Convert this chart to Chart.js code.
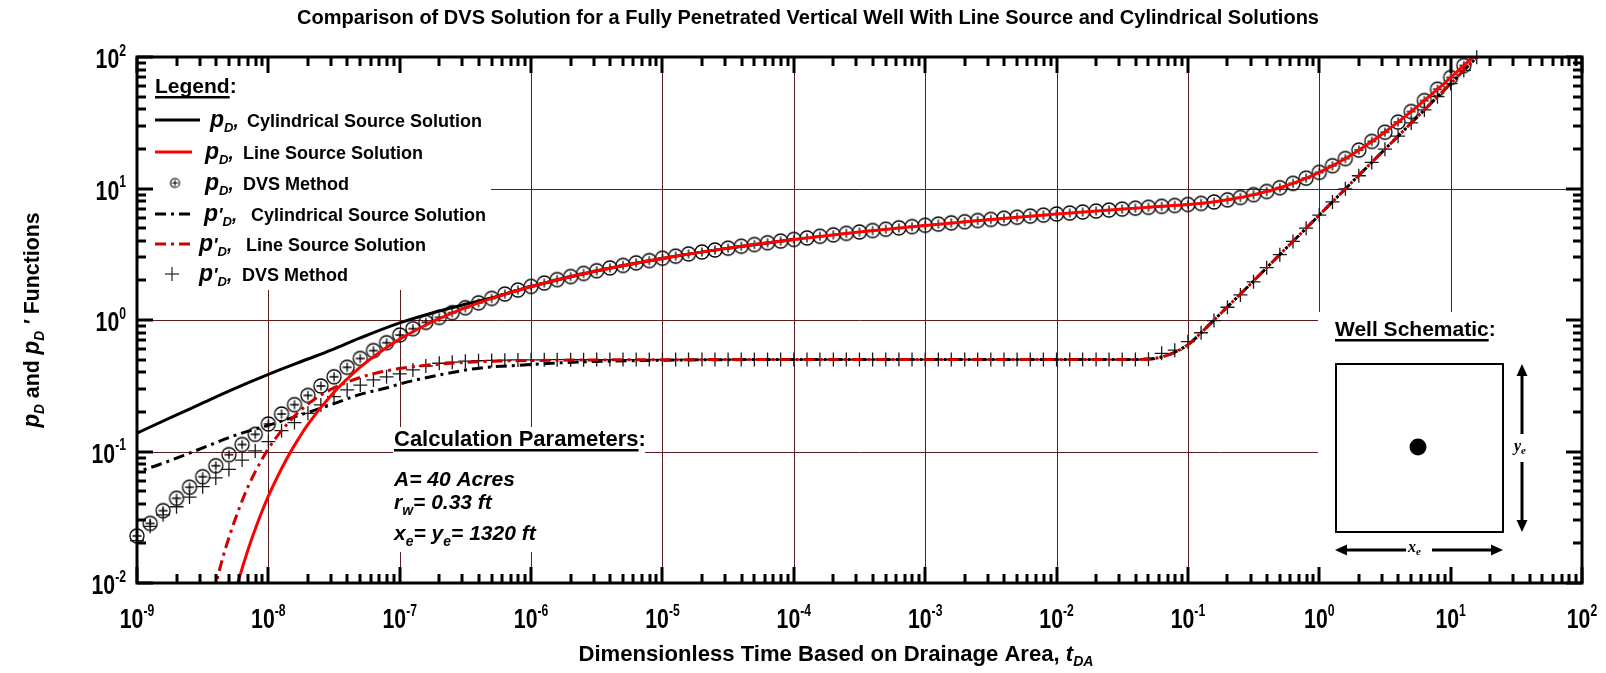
<!DOCTYPE html>
<html>
<head>
<meta charset="utf-8">
<script src="https://cdn.jsdelivr.net/npm/chart.js@4.4.1/dist/chart.umd.min.js"></script>
<style>
  html, body { margin: 0; padding: 0; background: #fff; }
  canvas { display: block; }
</style>
</head>
<body>
<canvas id="dvsChart" width="1606" height="673"></canvas>
<script>
// ---- values ----
var xTickExps = ['-9', '-8', '-7', '-6', '-5', '-4', '-3', '-2', '-1', '0', '1', '2'];
var yTickExps = ['-2', '-1', '0', '1', '2'];

// pD, line source solution (red solid)
var tPdLine = [5.5e-9, 6e-9, 7e-9, 8e-9, 1e-8, 1.25e-8, 1.5e-8, 2e-8, 3e-8, 5e-8, 7e-8, 1e-7, 1.5e-7, 2e-7, 3e-7, 5e-7,
  1e-6, 3e-6, 1e-5, 3e-5, 1e-4, 3e-4, 1e-3, 3e-3, 1e-2, 3e-2, 5e-2, 0.1, 0.15, 0.2, 0.3, 0.5, 0.7, 1, 1.5, 2, 3, 5, 7, 10, 16];
var pdLine = [0.008, 0.0109, 0.0179, 0.0262, 0.0457, 0.073, 0.102, 0.161, 0.267, 0.438, 0.567, 0.715, 0.893, 1.024, 1.215, 1.46,
  1.8, 2.34, 2.94, 3.49, 4.09, 4.64, 5.24, 5.79, 6.39, 6.94, 7.2, 7.56, 7.87, 8.2, 8.87, 10.13, 11.39, 13.27, 16.41, 19.56, 25.84, 38.4, 50.97, 69.8, 107.5];

// pD, cylindrical source solution (black solid)
var tPdCyl = [1e-9, 2e-9, 3e-9, 5e-9, 1e-8, 2e-8, 3e-8, 5e-8, 1e-7, 2e-7, 3e-7, 5e-7, 1e-6, 3e-6, 1e-5, 3e-5, 1e-4];
var pdCyl = [0.138, 0.19, 0.228, 0.288, 0.386, 0.505, 0.59, 0.73, 0.95, 1.17, 1.3, 1.47, 1.8, 2.34, 2.94, 3.49, 4.09];

// pD', cylindrical source solution (black dash-dot)
var tPdPrimeCyl = [1e-9, 1.5e-9, 2.7e-9, 6e-9, 1e-8, 1.6e-8, 3.2e-8, 5e-8, 8e-8, 1e-7, 2e-7, 4e-7, 1e-6, 2.3e-6, 6e-6, 1e-5,
  1e-4, 1e-3, 1e-2, 3e-2, 5e-2, 7e-2, 0.1, 0.15, 0.2, 0.3, 0.5, 1, 2, 5, 10, 16];
var pdPrimeCyl = [0.07, 0.08, 0.1, 0.136, 0.158, 0.184, 0.232, 0.272, 0.305, 0.326, 0.382, 0.43, 0.458, 0.48, 0.49, 0.495,
  0.5, 0.5, 0.5, 0.5, 0.505, 0.54, 0.65, 0.95, 1.26, 1.88, 3.14, 6.28, 12.6, 31.4, 62.8, 100.5];

// pD', line source solution (red dash-dot)
var tPdPrimeLine = [3.8e-9, 4.5e-9, 5e-9, 6e-9, 7e-9, 8e-9, 1e-8, 1.5e-8, 2e-8, 3e-8, 5e-8, 7e-8, 1e-7, 2e-7, 5e-7, 1e-6,
  1e-5, 1e-4, 1e-3, 1e-2, 3e-2, 5e-2, 7e-2, 0.1, 0.15, 0.2, 0.3, 0.5, 1, 2, 5, 10, 16];
var pdPrimeLine = [0.0082, 0.0156, 0.022, 0.037, 0.054, 0.071, 0.105, 0.176, 0.229, 0.297, 0.366, 0.4, 0.428, 0.462, 0.485, 0.492,
  0.499, 0.5, 0.5, 0.5, 0.5, 0.505, 0.54, 0.65, 0.95, 1.26, 1.88, 3.14, 6.28, 12.6, 31.4, 62.8, 100.5];

// DVS method sample times (markers)
var tDvs = [
  1e-9, 1.26e-9, 1.58e-9, 2e-9, 2.51e-9, 3.16e-9, 3.98e-9, 5.01e-9, 6.31e-9, 7.94e-9,
  1e-8, 1.26e-8, 1.58e-8, 2e-8, 2.51e-8, 3.16e-8, 3.98e-8, 5.01e-8, 6.31e-8, 7.94e-8,
  1e-7, 1.26e-7, 1.58e-7, 2e-7, 2.51e-7, 3.16e-7, 3.98e-7, 5.01e-7, 6.31e-7, 7.94e-7,
  1e-6, 1.26e-6, 1.58e-6, 2e-6, 2.51e-6, 3.16e-6, 3.98e-6, 5.01e-6, 6.31e-6, 7.94e-6,
  1e-5, 1.26e-5, 1.58e-5, 2e-5, 2.51e-5, 3.16e-5, 3.98e-5, 5.01e-5, 6.31e-5, 7.94e-5,
  1e-4, 1.26e-4, 1.58e-4, 2e-4, 2.51e-4, 3.16e-4, 3.98e-4, 5.01e-4, 6.31e-4, 7.94e-4,
  1e-3, 1.26e-3, 1.58e-3, 2e-3, 2.51e-3, 3.16e-3, 3.98e-3, 5.01e-3, 6.31e-3, 7.94e-3,
  1e-2, 1.26e-2, 1.58e-2, 2e-2, 2.51e-2, 3.16e-2, 3.98e-2, 5.01e-2, 6.31e-2, 7.94e-2,
  0.1, 0.126, 0.158, 0.2, 0.251, 0.316, 0.398, 0.501, 0.631, 0.794,
  1, 1.26, 1.58, 2, 2.51, 3.16, 3.98, 5.01, 6.31, 7.94,
  10, 12.6, 15.8
];
// pD, DVS method (circled plus)
var pdDvs = [
  0.0228, 0.0284, 0.0355, 0.0441, 0.0535, 0.0643, 0.078, 0.0946, 0.113, 0.135,
  0.162, 0.193, 0.227, 0.267, 0.315, 0.37, 0.437, 0.51, 0.585, 0.672,
  0.769, 0.859, 0.96, 1.047, 1.137, 1.24, 1.35, 1.46, 1.575, 1.69,
  1.8, 1.91, 2.03, 2.14, 2.26, 2.37, 2.49, 2.6, 2.72, 2.83,
  2.95, 3.06, 3.18, 3.29, 3.41, 3.52, 3.64, 3.75, 3.87, 3.98,
  4.1, 4.21, 4.33, 4.44, 4.56, 4.67, 4.79, 4.9, 5.02, 5.13,
  5.25, 5.36, 5.48, 5.59, 5.71, 5.82, 5.94, 6.05, 6.17, 6.28,
  6.4, 6.51, 6.63, 6.74, 6.86, 6.97, 7.09, 7.2, 7.32, 7.43,
  7.56, 7.7, 7.9, 8.2, 8.55, 8.98, 9.49, 10.14, 10.95, 11.98,
  13.27, 14.9, 16.9, 19.6, 22.8, 26.8, 32.0, 38.5, 46.6, 56.9,
  69.8, 86.1
];
// pD', DVS method (plus)
var pdPrimeDvs = [
  0.021, 0.027, 0.033, 0.038, 0.045, 0.054, 0.063, 0.073, 0.086, 0.101,
  0.119, 0.144, 0.166, 0.195, 0.226, 0.261, 0.294, 0.32, 0.35, 0.37,
  0.39, 0.417, 0.447, 0.469, 0.478, 0.486, 0.49, 0.493, 0.495, 0.497,
  0.498, 0.498, 0.499, 0.499, 0.499, 0.5, 0.5, 0.5, 0.5, 0.5,
  0.5, 0.5, 0.5, 0.5, 0.5, 0.5, 0.5, 0.5, 0.5, 0.5,
  0.5, 0.5, 0.5, 0.5, 0.5, 0.5, 0.5, 0.5, 0.5, 0.5,
  0.5, 0.5, 0.5, 0.5, 0.5, 0.5, 0.5, 0.5, 0.5, 0.5,
  0.5, 0.5, 0.5, 0.5, 0.5, 0.5, 0.5, 0.504, 0.558, 0.59,
  0.684, 0.8, 0.99, 1.25, 1.55, 1.95, 2.5, 3.14, 3.96, 4.99,
  6.28, 7.9, 9.95, 12.5, 15.8, 19.9, 25.0, 31.5, 39.6, 49.9,
  62.8, 79.0, 99.5
];

var FAM = '"Liberation Sans", Arial, sans-serif';
var SERIF = '"Liberation Serif", "Times New Roman", serif';
var GRID = '#5a1e1e';

function toXY(ts, vs) {
  return vs.map(function (v, i) { return { x: ts[i], y: v }; });
}

// circle with a plus inside, used as the DVS pD marker
function circlePlus(r, arm, lw) {
    var c = document.createElement('canvas');
    var s = Math.ceil(2 * r + 4);
    c.width = s; c.height = s;
    var g = c.getContext('2d');
    var m = s / 2;
    g.strokeStyle = '#000';
    g.lineWidth = lw;
    g.beginPath(); g.arc(m, m, r, 0, Math.PI * 2); g.stroke();
    g.beginPath();
    g.moveTo(m - arm, m); g.lineTo(m + arm, m);
    g.moveTo(m, m - arm); g.lineTo(m, m + arm);
    g.stroke();
    return c;
}

function runsWidth(ctx, runs) {
    var w = 0;
    runs.forEach(function (r) { ctx.font = r.f; w += ctx.measureText(r.s).width; });
    return w;
}

function drawRuns(ctx, runs, x, y, align, sx) {
    sx = sx || 1;
    var w = runsWidth(ctx, runs) * sx;
    var x0 = align === 'center' ? x - w / 2 : (align === 'right' ? x - w : x);
    ctx.save();
    ctx.translate(x0, y);
    ctx.scale(sx, 1);
    ctx.textAlign = 'left';
    ctx.textBaseline = 'alphabetic';
    ctx.fillStyle = '#000';
    var cx = 0;
    runs.forEach(function (r) {
        ctx.font = r.f;
        ctx.fillText(r.s, cx, r.dy || 0);
        cx += ctx.measureText(r.s).width;
    });
    ctx.restore();
    return { x0: x0, w: w };
}

function fitRuns(ctx, runs, x, y, align, target) {
    return drawRuns(ctx, runs, x, y, align, target / runsWidth(ctx, runs));
}

function seg(ctx, x1, y1, x2, y2) {
    ctx.beginPath(); ctx.moveTo(x1, y1); ctx.lineTo(x2, y2); ctx.stroke();
}

function underlined(ctx, text, x, y, font) {
    var r = drawRuns(ctx, [{ s: text, f: font }], x, y, 'left');
    ctx.fillRect(r.x0, y + 3, r.w, 2.5);
    drawRuns(ctx, [{ s: ':', f: font }], r.x0 + r.w, y, 'left');
}

function pSym(prime) {
    var runs = [{ s: 'p', f: 'italic bold 23px ' + FAM }];
    if (prime) runs.push({ s: '\'', f: 'italic bold 19px ' + FAM });
    runs.push({ s: 'D', f: 'italic bold 13px ' + FAM, dy: 5 });
    runs.push({ s: ',', f: 'italic bold 19px ' + FAM });
    return runs;
}

function arrowHead(ctx, x, y, dx, dy) {
    // tip at (x,y), pointing along (dx,dy)
    var len = 12, half = 5.5;
    ctx.beginPath();
    ctx.moveTo(x, y);
    ctx.lineTo(x - dx * len - dy * half, y - dy * len + dx * half);
    ctx.lineTo(x - dx * len + dy * half, y - dy * len - dx * half);
    ctx.closePath();
    ctx.fill();
}

var framePlugin = {
    id: 'frame',
    beforeDatasetsDraw: function (chart) {
        var ctx = chart.ctx, a = chart.chartArea;
        var xs = chart.scales.x, ys = chart.scales.y;
        ctx.save();
        ctx.strokeStyle = GRID;
        ctx.lineWidth = 1;
        for (var e = -8; e <= 1; e++) {
            var px = Math.round(xs.getPixelForValue(Math.pow(10, e))) + 0.5;
            seg(ctx, px, a.top, px, a.bottom);
        }
        for (var k = -1; k <= 1; k++) {
            var py = Math.round(ys.getPixelForValue(Math.pow(10, k))) + 0.5;
            seg(ctx, a.left, py, a.right, py);
        }
        // white panels behind the annotation blocks
        ctx.fillStyle = '#fff';
        ctx.fillRect(a.left + 2, a.top + 2, 352, 231);   // legend
        ctx.fillRect(393, 427, 252, 125);                 // calculation parameters
        ctx.fillRect(1318, 312, a.right - 1320, a.bottom - 314); // well schematic
        ctx.restore();
    },
    afterDatasetsDraw: function (chart) {
        var ctx = chart.ctx, a = chart.chartArea;
        var xs = chart.scales.x, ys = chart.scales.y;
        ctx.save();
        ctx.strokeStyle = '#000';
        ctx.fillStyle = '#000';

        // ticks on all four sides, pointing inward
        ctx.lineWidth = 3;
        var e, m, v, p, len;
        for (e = -9; e <= 2; e++) {
            for (m = 1; m <= 9; m++) {
                v = m * Math.pow(10, e);
                if (v > 100.0001) continue;
                p = Math.round(xs.getPixelForValue(v));
                len = m === 1 ? 16 : 9;
                seg(ctx, p, a.bottom, p, a.bottom - len);
                seg(ctx, p, a.top, p, a.top + len);
            }
        }
        for (e = -2; e <= 2; e++) {
            for (m = 1; m <= 9; m++) {
                v = m * Math.pow(10, e);
                if (v > 100.0001) continue;
                p = Math.round(ys.getPixelForValue(v));
                len = m === 1 ? 16 : 9;
                seg(ctx, a.left, p, a.left + len, p);
                seg(ctx, a.right, p, a.right - len, p);
            }
        }
        ctx.strokeRect(a.left, a.top, a.right - a.left, a.bottom - a.top);

        // tick labels
        var big = 'bold 28px ' + FAM, sup = 'bold 16px ' + FAM;
        xTickExps.forEach(function (ex) {
            var px = xs.getPixelForValue(Math.pow(10, Number(ex)));
            drawRuns(ctx, [{ s: '10', f: big }, { s: ex, f: sup, dy: -12.5 }], px, 628, 'center', 0.76);
        });
        yTickExps.forEach(function (ex) {
            var py = ys.getPixelForValue(Math.pow(10, Number(ex)));
            drawRuns(ctx, [{ s: '10', f: big }, { s: ex, f: sup, dy: -12.5 }], 126, py + 11, 'right', 0.76);
        });

        // titles
        fitRuns(ctx, [{ s: 'Comparison of DVS Solution for a Fully Penetrated Vertical Well With Line Source and Cylindrical Solutions', f: 'bold 20px ' + FAM }],
            808, 24, 'center', 1022);
        fitRuns(ctx, [
            { s: 'Dimensionless Time Based on Drainage Area, ', f: 'bold 22px ' + FAM },
            { s: 't', f: 'italic bold 22px ' + FAM },
            { s: 'DA', f: 'italic bold 14px ' + FAM, dy: 5 }
        ], 836, 661, 'center', 515);
        ctx.save();
        ctx.translate(39, 320);
        ctx.rotate(-Math.PI / 2);
        fitRuns(ctx, [
            { s: 'p', f: 'italic bold 23px ' + FAM },
            { s: 'D', f: 'italic bold 14px ' + FAM, dy: 5 },
            { s: ' and ', f: 'bold 22px ' + FAM },
            { s: 'p', f: 'italic bold 23px ' + FAM },
            { s: 'D', f: 'italic bold 14px ' + FAM, dy: 5 },
            { s: ' \'', f: 'italic bold 22px ' + FAM },
            { s: ' Functions', f: 'bold 22px ' + FAM }
        ], 0, 0, 'center', 215);
        ctx.restore();

        // legend block
        var lab = 'bold 18px ' + FAM;
        underlined(ctx, 'Legend', 155, 93, 'bold 21px ' + FAM);
        ctx.lineWidth = 3;
        ctx.strokeStyle = '#000';
        seg(ctx, 155, 120, 200, 120);
        drawRuns(ctx, pSym(false), 210, 127, 'left');
        drawRuns(ctx, [{ s: 'Cylindrical Source Solution', f: lab }], 247, 127, 'left');

        ctx.strokeStyle = '#ff0000';
        seg(ctx, 155, 152, 192, 152);
        drawRuns(ctx, pSym(false), 205, 159, 'left');
        drawRuns(ctx, [{ s: 'Line Source Solution', f: lab }], 243, 159, 'left');

        var legMark = circlePlus(4.5, 3, 1.1);
        ctx.drawImage(legMark, 175 - legMark.width / 2, 183 - legMark.height / 2);
        drawRuns(ctx, pSym(false), 205, 190, 'left');
        drawRuns(ctx, [{ s: 'DVS Method', f: lab }], 243, 190, 'left');

        ctx.setLineDash([11, 5, 3, 5]);
        ctx.strokeStyle = '#000';
        seg(ctx, 155, 214, 192, 214);
        ctx.strokeStyle = '#cc0000';
        seg(ctx, 155, 244, 192, 244);
        ctx.setLineDash([]);
        drawRuns(ctx, pSym(true), 204, 221, 'left');
        drawRuns(ctx, [{ s: 'Cylindrical Source Solution', f: lab }], 251, 221, 'left');
        drawRuns(ctx, pSym(true), 199, 251, 'left');
        drawRuns(ctx, [{ s: 'Line Source Solution', f: lab }], 246, 251, 'left');

        ctx.strokeStyle = '#222';
        ctx.lineWidth = 1.2;
        seg(ctx, 165, 274, 179, 274);
        seg(ctx, 172, 267, 172, 281);
        drawRuns(ctx, pSym(true), 199, 281, 'left');
        drawRuns(ctx, [{ s: 'DVS Method', f: lab }], 242, 281, 'left');

        // calculation parameters block
        var it = 'italic bold 21px ' + FAM, itSub = 'italic bold 14px ' + FAM;
        underlined(ctx, 'Calculation Parameters', 394, 446, 'bold 22px ' + FAM);
        drawRuns(ctx, [{ s: 'A= 40 Acres', f: it }], 394, 486, 'left');
        drawRuns(ctx, [{ s: 'r', f: it }, { s: 'w', f: itSub, dy: 6 }, { s: '= 0.33 ft', f: it }], 394, 509, 'left');
        drawRuns(ctx, [{ s: 'x', f: it }, { s: 'e', f: itSub, dy: 6 }, { s: '= y', f: it }, { s: 'e', f: itSub, dy: 6 }, { s: '= 1320 ft', f: it }], 394, 540, 'left');

        // well schematic block
        underlined(ctx, 'Well Schematic', 1335, 336, 'bold 21px ' + FAM);
        ctx.strokeStyle = '#000';
        ctx.lineWidth = 2;
        ctx.strokeRect(1336, 364, 167, 168);
        ctx.beginPath(); ctx.arc(1418, 447, 8.5, 0, Math.PI * 2); ctx.fill();
        ctx.lineWidth = 3;
        seg(ctx, 1522, 370, 1522, 434);
        seg(ctx, 1522, 462, 1522, 526);
        arrowHead(ctx, 1522, 364, 0, -1);
        arrowHead(ctx, 1522, 532, 0, 1);
        seg(ctx, 1341, 550, 1406, 550);
        seg(ctx, 1432, 550, 1497, 550);
        arrowHead(ctx, 1335, 550, -1, 0);
        arrowHead(ctx, 1503, 550, 1, 0);
        drawRuns(ctx, [{ s: 'y', f: 'italic bold 16px ' + SERIF }, { s: 'e', f: 'italic bold 11px ' + SERIF, dy: 3 }], 1514, 451, 'left');
        drawRuns(ctx, [{ s: 'x', f: 'italic bold 16px ' + SERIF }, { s: 'e', f: 'italic bold 11px ' + SERIF, dy: 3 }], 1408, 552, 'left');

        ctx.restore();
    }
};

var dvsMarker = circlePlus(7, 4.5, 1.3);

var datasets = [
    {
        label: 'pD, Line Source Solution',
        data: toXY(tPdLine, pdLine),
        borderColor: '#ff0000', borderWidth: 3, pointRadius: 0,
        cubicInterpolationMode: 'monotone', order: 0
    },
    {
        label: "p'D, Line Source Solution",
        data: toXY(tPdPrimeLine, pdPrimeLine),
        borderColor: '#cc0000', borderWidth: 3, pointRadius: 0, borderDash: [11, 5, 3, 5],
        cubicInterpolationMode: 'monotone', order: 1
    },
    {
        label: "p'D, Cylindrical Source Solution",
        data: toXY(tPdPrimeCyl, pdPrimeCyl),
        borderColor: '#000', borderWidth: 3, pointRadius: 0, borderDash: [11, 5, 3, 5], borderDashOffset: 9,
        cubicInterpolationMode: 'monotone', order: 2
    },
    {
        label: 'pD, Cylindrical Source Solution',
        data: toXY(tPdCyl, pdCyl),
        borderColor: '#000', borderWidth: 3, pointRadius: 0,
        cubicInterpolationMode: 'monotone', order: 3
    },
    {
        label: "p'D, DVS Method",
        data: toXY(tDvs, pdPrimeDvs),
        showLine: false, pointStyle: 'cross', pointRadius: 7,
        borderColor: '#1a1a1a', borderWidth: 1.3, clip: false, order: 4
    },
    {
        label: 'pD, DVS Method',
        data: toXY(tDvs, pdDvs),
        showLine: false, pointStyle: dvsMarker, pointRadius: 7, clip: false, order: 5
    }
];

new Chart(document.getElementById('dvsChart'), {
    type: 'line',
    data: { datasets: datasets },
    options: {
        responsive: false,
        animation: false,
        events: [],
        layout: { padding: { left: 137, top: 57, right: 24, bottom: 90 } },
        scales: {
            x: { type: 'logarithmic', min: 1e-9, max: 100, display: false },
            y: { type: 'logarithmic', min: 0.01, max: 100, display: false }
        },
        plugins: { legend: { display: false }, tooltip: { enabled: false } }
    },
    plugins: [framePlugin]
});
</script>
</body>
</html>
